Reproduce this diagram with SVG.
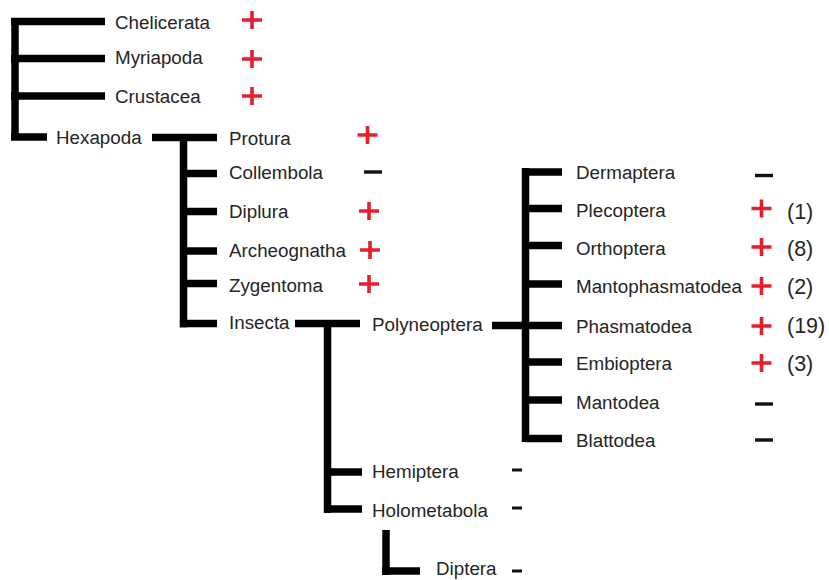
<svg xmlns="http://www.w3.org/2000/svg" width="829" height="580" viewBox="0 0 829 580">
<style>
.b{stroke:#000;stroke-width:7.5;fill:none;stroke-linecap:butt}
.t{font-family:"Liberation Sans",Arial,sans-serif;font-size:18.8px;fill:#252525}
.n{font-family:"Liberation Sans",Arial,sans-serif;font-size:21.5px;fill:#252525}
.p{stroke:#e3202b;stroke-width:3.6;fill:none}
.m{stroke:#111;stroke-width:3.4;fill:none}
.s{stroke:#111;stroke-width:3;fill:none}
</style>
<defs>
<path id="plus" class="p" d="M-10,0H10M0,-9V9"/>
<path id="minus" class="m" d="M-9,0H9"/>
<path id="sminus" class="s" d="M-5,0H5"/>
</defs>
<rect width="829" height="580" fill="#fff"/>
<g id="connectors">
<path class="b" d="M15,18V140.5M11,21.5H105M11,58.5H105M11,96H105M11,137H47"/>
<path class="b" d="M152,137.5H217M183.5,134V327.5M183.5,173.5H217M183.5,211.5H217M183.5,251H217M183.5,283.5H217M183.5,323.5H217"/>
<path class="b" d="M295,323.5H360M327.5,320V513M327.5,472H362M327.5,509H362"/>
<path class="b" d="M386,530V575M382,571H420"/>
<path class="b" d="M492,325.5H562M525.5,168V442M525.5,172H562M525.5,208.5H562M525.5,245.5H562M525.5,284H562M525.5,362H562M525.5,400H562M525.5,438.5H562"/>
</g>
<g id="chelicerata"><text class="t" x="115" y="29">Chelicerata</text><use href="#plus" x="252" y="20"/></g>
<g id="myriapoda"><text class="t" x="115" y="64">Myriapoda</text><use href="#plus" x="252" y="59"/></g>
<g id="crustacea"><text class="t" x="115" y="103">Crustacea</text><use href="#plus" x="252" y="96"/></g>
<g id="hexapoda"><text class="t" x="56" y="144">Hexapoda</text></g>
<g id="protura"><text class="t" x="229" y="145">Protura</text><use href="#plus" x="367.5" y="135"/></g>
<g id="collembola"><text class="t" x="229" y="179">Collembola</text><use href="#minus" x="373" y="172"/></g>
<g id="diplura"><text class="t" x="229" y="218">Diplura</text><use href="#plus" x="369" y="211"/></g>
<g id="archeognatha"><text class="t" x="229" y="257">Archeognatha</text><use href="#plus" x="370" y="250"/></g>
<g id="zygentoma"><text class="t" x="229" y="292">Zygentoma</text><use href="#plus" x="369" y="284"/></g>
<g id="insecta"><text class="t" x="229" y="329">Insecta</text></g>
<g id="polyneoptera"><text class="t" x="372" y="331">Polyneoptera</text></g>
<g id="hemiptera"><text class="t" x="372" y="478">Hemiptera</text><use href="#sminus" x="517" y="470"/></g>
<g id="holometabola"><text class="t" x="372" y="517">Holometabola</text><use href="#sminus" x="517" y="508"/></g>
<g id="diptera"><text class="t" x="436" y="575">Diptera</text><use href="#sminus" x="517" y="571"/></g>
<g id="dermaptera"><text class="t" x="576" y="179">Dermaptera</text><use href="#minus" x="764" y="175.5"/></g>
<g id="plecoptera"><text class="t" x="576" y="217">Plecoptera</text><use href="#plus" x="761.5" y="208.5"/><text class="n" x="787" y="219">(1)</text></g>
<g id="orthoptera"><text class="t" x="576" y="255">Orthoptera</text><use href="#plus" x="761.5" y="247"/><text class="n" x="787" y="256">(8)</text></g>
<g id="mantophasmatodea"><text class="t" x="576" y="293">Mantophasmatodea</text><use href="#plus" x="761.5" y="286"/><text class="n" x="787" y="294">(2)</text></g>
<g id="phasmatodea"><text class="t" x="576" y="333">Phasmatodea</text><use href="#plus" x="761.5" y="326"/><text class="n" x="787" y="333">(19)</text></g>
<g id="embioptera"><text class="t" x="576" y="370">Embioptera</text><use href="#plus" x="761.5" y="363"/><text class="n" x="787" y="371">(3)</text></g>
<g id="mantodea"><text class="t" x="576" y="409">Mantodea</text><use href="#minus" x="764" y="404"/></g>
<g id="blattodea"><text class="t" x="576" y="447">Blattodea</text><use href="#minus" x="764" y="440"/></g>
</svg>
